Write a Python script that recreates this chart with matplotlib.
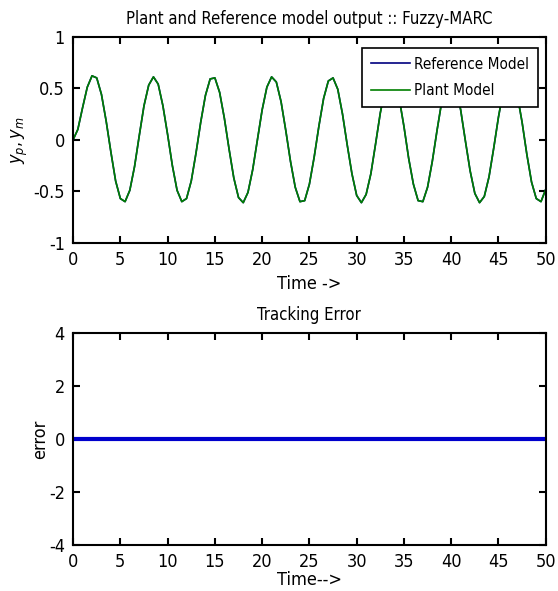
import numpy as np
import matplotlib
matplotlib.use('Agg')
import matplotlib.pyplot as plt

plt.rcParams['font.family'] = ['DejaVu Sans']
plt.rcParams['font.stretch'] = 'condensed'
plt.rcParams['axes.unicode_minus'] = False
plt.rcParams['mathtext.fontset'] = 'dejavusans'

# time axis, 0.5 s steps
time = [0.5 * k for k in range(101)]

# plant / reference model output (the two curves overlap)
y_ref = [
    0.00, 0.10, 0.31, 0.51, 0.62, 0.60, 0.44, 0.18, -0.12, -0.40,
    -0.57, -0.60, -0.49, -0.26, 0.04, 0.33, 0.53, 0.61, 0.54, 0.33,
    0.05, -0.25, -0.49, -0.60, -0.57, -0.40, -0.13, 0.17, 0.43, 0.59,
    0.60, 0.46, 0.21, -0.09, -0.37, -0.56, -0.61, -0.51, -0.29, 0.00,
    0.29, 0.51, 0.61, 0.56, 0.37, 0.09, -0.21, -0.46, -0.60, -0.59,
    -0.43, -0.17, 0.13, 0.40, 0.57, 0.60, 0.49, 0.25, -0.05, -0.33,
    -0.54, -0.61, -0.53, -0.33, -0.04, 0.26, 0.49, 0.60, 0.57, 0.40,
    0.13, -0.18, -0.43, -0.59, -0.60, -0.46, -0.21, 0.09, 0.37, 0.56,
    0.61, 0.51, 0.29, -0.01, -0.30, -0.52, -0.61, -0.55, -0.36, -0.08,
    0.22, 0.47, 0.60, 0.58, 0.43, 0.17, -0.14, -0.41, -0.57, -0.60,
    -0.48,
]
y_plant = list(y_ref)

# tracking error
error = [0.0] * len(time)

fig = plt.figure(figsize=(5.58, 5.91), dpi=100)
ax1 = fig.add_axes([0.131, 0.589, 0.847, 0.349])
ax2 = fig.add_axes([0.131, 0.078, 0.847, 0.359])

ax1.plot(time, y_ref, color='#00007f', linewidth=1.2, label='Reference Model')
ax1.plot(time, y_plant, color='#007f00', linewidth=1.2, label='Plant Model')
ax1.set_xlim(0, 50)
ax1.set_ylim(-1, 1)
ax1.set_xticks(np.arange(0, 51, 5))
ax1.set_yticks([-1, -0.5, 0, 0.5, 1])
ax1.set_yticklabels(['-1', '-0.5', '0', '0.5', '1'])
ax1.set_title('Plant and Reference model output :: Fuzzy-MARC', fontsize=12, pad=9)
ax1.set_xlabel('Time ->', fontsize=13, labelpad=4)
ax1.set_ylabel(r'$y_p, y_m$', fontsize=13, labelpad=2)
leg = ax1.legend(loc='upper right', fontsize=11, frameon=True, fancybox=False,
                 edgecolor='black', framealpha=1, borderaxespad=0,
                 handlelength=2.6, handletextpad=0.2, borderpad=0.6,
                 labelspacing=0.75, bbox_to_anchor=(0.983, 0.947))
leg.get_frame().set_linewidth(1.2)

ax2.plot(time, error, color='#0000cc', linewidth=3)
ax2.set_xlim(0, 50)
ax2.set_ylim(-4, 4)
ax2.set_xticks(np.arange(0, 51, 5))
ax2.set_yticks([-4, -2, 0, 2, 4])
ax2.set_title('Tracking Error', fontsize=12, pad=9)
ax2.set_xlabel('Time-->', fontsize=13, labelpad=0)
ax2.set_ylabel('error', fontsize=13, labelpad=0)

for ax in (ax1, ax2):
    ax.tick_params(direction='in', top=True, right=True, length=5, width=1.5,
                   labelsize=13, pad=6)
    for s in ax.spines.values():
        s.set_linewidth(1.5)

fig.savefig('out.png', dpi=100)
